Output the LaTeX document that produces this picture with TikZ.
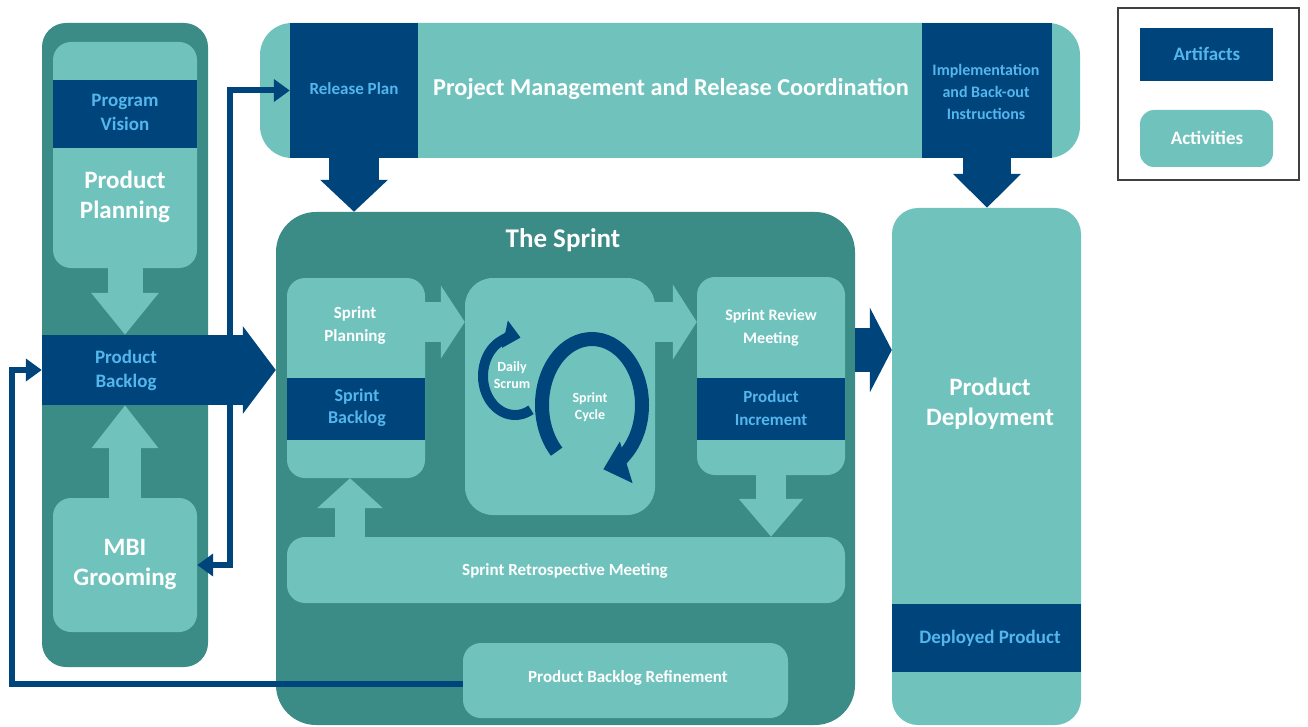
\documentclass[tikz,border=0pt]{standalone}
\usepackage{fontspec}
\setmainfont{Carlito}
\usetikzlibrary{arrows.meta}

\definecolor{darkteal}{RGB}{59,139,134}
\definecolor{lightteal}{RGB}{112,195,189}
\definecolor{navy}{RGB}{0,68,124}
\definecolor{skyblue}{RGB}{84,182,236}

\begin{document}
\begin{tikzpicture}[x=1pt,y=-1pt,
  panel/.style={fill=darkteal,rounded corners=24pt,inner sep=0pt},
  activity/.style={fill=lightteal,rounded corners=18pt,inner sep=0pt},
  artifact/.style={fill=navy,inner sep=0pt},
  acttext/.style={text=white,align=center},
  arttext/.style={text=skyblue,align=center},
  huge/.style={font=\bfseries\fontsize{25}{30}\selectfont},
  large/.style={font=\bfseries\fontsize{19}{24}\selectfont},
  medium/.style={font=\bfseries\fontsize{17}{23}\selectfont},
  tiny/.style={font=\bfseries\fontsize{14}{17}\selectfont},
  link/.style={draw=navy,line width=6pt,line join=miter}]
  \useasboundingbox (0,0) rectangle (1308,727);

  % Left column
  \node[panel, minimum width=166pt, minimum height=644pt] (leftcol) at (125,345) {};
  \node[activity, minimum width=144pt, minimum height=226pt] (planbox) at (125,155) {};
  \node[artifact, minimum width=144pt, minimum height=68pt] (vision) at (125,114) {};
  \node[artifact, minimum width=166pt, minimum height=70pt] (backlog) at (125,370) {};
  \node[activity, minimum width=144pt, minimum height=134pt] (mbi) at (125,565) {};
  \draw[lightteal, line width=35pt, -{Triangle[length=42pt,width=65pt]}]
    (planbox.south) -- (backlog.north);
  \draw[lightteal, line width=32pt, -{Triangle[length=43pt,width=64pt]}]
    (mbi.north) -- (backlog.south);
  \node[arttext, large] (visiontxt) at (125,112) {Program\\Vision};
  \node[acttext, huge] (plantxt) at (125,197) {Product\\Planning};
  \node[arttext, large] (backlogtxt) at (126,370) {Product\\Backlog};
  \node[acttext, huge] (mbitxt) at (125,565) {MBI\\Grooming};

  % Top bar
  \node[activity, rounded corners=32pt, minimum width=820pt, minimum height=135pt] (pmbar) at (670,90.5) {};
  \node[artifact, minimum width=128pt, minimum height=135pt] (relplan) at (354,90.5) {};
  \node[artifact, minimum width=130pt, minimum height=135pt] (impl) at (987,90.5) {};
  \node[arttext, medium] (relplantxt) at (354,89) {Release Plan};
  \node[acttext, font=\bfseries\fontsize{24.3}{30}\selectfont] (pmtxt) at (671,89)
    {Project Management and Release Coordination};
  \node[arttext, font=\bfseries\fontsize{16}{22}\selectfont] (impltxt) at (986,92)
    {Implementation\\and Back-out\\Instructions};

  % The sprint
  \node[panel, rounded corners=40pt, minimum width=579pt, minimum height=513pt] (sprint) at (565.5,468.5) {};
  \node[acttext, font=\bfseries\fontsize{27}{30}\selectfont] (sprinttxt) at (563,240) {The Sprint};
  \node[activity, minimum width=138pt, minimum height=200pt] (planning) at (356,378) {};
  \node[artifact, minimum width=138pt, minimum height=62pt] (sbacklog) at (356,409) {};
  \node[activity, rounded corners=28pt, minimum width=190pt, minimum height=237pt] (cycle) at (560,396.5) {};
  \node[activity, minimum width=148pt, minimum height=198pt] (review) at (771,376) {};
  \node[artifact, minimum width=148pt, minimum height=62pt] (increment) at (771,409) {};
  \node[activity, minimum width=558pt, minimum height=66pt] (retro) at (566,570) {};
  \coordinate (toprow) at (0,322);
  \draw[lightteal, line width=40pt, -{Triangle[length=24pt,width=72pt]}]
    (planning.east |- toprow) -- (cycle.west |- toprow);
  \draw[lightteal, line width=40pt, -{Triangle[length=24pt,width=74pt]}]
    (cycle.east |- toprow) -- (review.west |- toprow);
  \draw[lightteal, line width=30pt, -{Triangle[length=38pt,width=62pt]}]
    (review.south) -- (retro.north -| review.south);
  \draw[lightteal, line width=30pt, -{Triangle[length=30pt,width=64pt]}]
    ([xshift=-6pt]planning.south |- retro.north) -- ([xshift=-6pt]planning.south);
  \node[acttext, medium] (planningtxt) at (355,325) {Sprint\\Planning};
  \node[arttext, font=\bfseries\fontsize{18}{22}\selectfont] (sbacklogtxt) at (357,408) {Sprint\\Backlog};
  \node[acttext, font=\bfseries\fontsize{16}{23}\selectfont] (reviewtxt) at (771,328) {Sprint Review\\Meeting};
  \node[arttext, medium] (incrementtxt) at (771,408) {Product\\Increment};
  \node[acttext, medium] (retrotxt) at (565,571) {Sprint Retrospective Meeting};

  % Cycle arrows
  \coordinate (dailyc) at (515,376);
  \coordinate (cyclec) at (592,405);
  \draw[navy, line width=10pt, -{Triangle[length=16pt,width=27pt]}]
    ([shift={(60:32 and 39)}]dailyc) arc[start angle=60, end angle=280, x radius=32, y radius=39];
  \draw[navy, line width=14pt, -{Triangle[length=24pt,width=42pt]}]
    ([shift={(135:50 and 66)}]cyclec) arc[start angle=135, end angle=437, x radius=50, y radius=66];
  \node[acttext, tiny] (dailytxt) at (512,375) {Daily\\Scrum};
  \node[acttext, tiny] (cycletxt) at (590,407) {Sprint\\Cycle};

  % Product deployment
  \node[activity, rounded corners=26pt, minimum width=189pt, minimum height=517pt] (deploy) at (986.5,466.5) {};
  \node[artifact, minimum width=189pt, minimum height=68pt] (deployed) at (986.5,638) {};
  \node[acttext, huge] (deploytxt) at (990,404) {Product\\Deployment};
  \node[arttext, large] (deployedtxt) at (990,638) {Deployed Product};

  % Dark arrows
  \coordinate (midrow) at (0,350);
  \draw[navy, line width=70pt, -{Triangle[length=33pt,width=86pt]}]
    (backlog.east) -- (sprint.west |- backlog.east);
  \draw[navy, line width=50pt, -{Triangle[length=32pt,width=66pt]}]
    (relplan.south) -- (relplan.south |- sprint.north);
  \draw[navy, line width=48pt, -{Triangle[length=34pt,width=66pt]}]
    (impl.south) -- (impl.south |- deploy.north);
  \draw[navy, line width=44pt, -{Triangle[length=22pt,width=84pt]}]
    (sprint.east |- midrow) -- (deploy.west |- midrow);

  % Thin links
  \draw[link, {Triangle[length=16pt,width=22pt]}-{Triangle[length=16pt,width=22pt]}]
    (mbi.east) -- ++(33,0) |- (relplan.west);
  \draw[link, -{Triangle[length=16pt,width=22pt]}]
    (663,684) -- (463,684) -| ([xshift=-30pt]backlog.west) -- (backlog.west);
  \node[activity, minimum width=325pt, minimum height=75pt] (refine) at (625.5,680.5) {};
  \node[acttext, medium] (refinetxt) at (628,678) {Product Backlog Refinement};

  % Legend
  \node[draw=black!75, line width=2pt, minimum width=181pt, minimum height=172pt] (legend) at (1208.5,94) {};
  \node[artifact, minimum width=133pt, minimum height=53pt] (legart) at (1206.5,54.5) {};
  \node[activity, rounded corners=14pt, minimum width=133pt, minimum height=57pt] (legact) at (1206.5,138.5) {};
  \node[arttext, large] (legarttxt) at (1207,54) {Artifacts};
  \node[acttext, large] (legacttxt) at (1207,138) {Activities};
\end{tikzpicture}
\end{document}
